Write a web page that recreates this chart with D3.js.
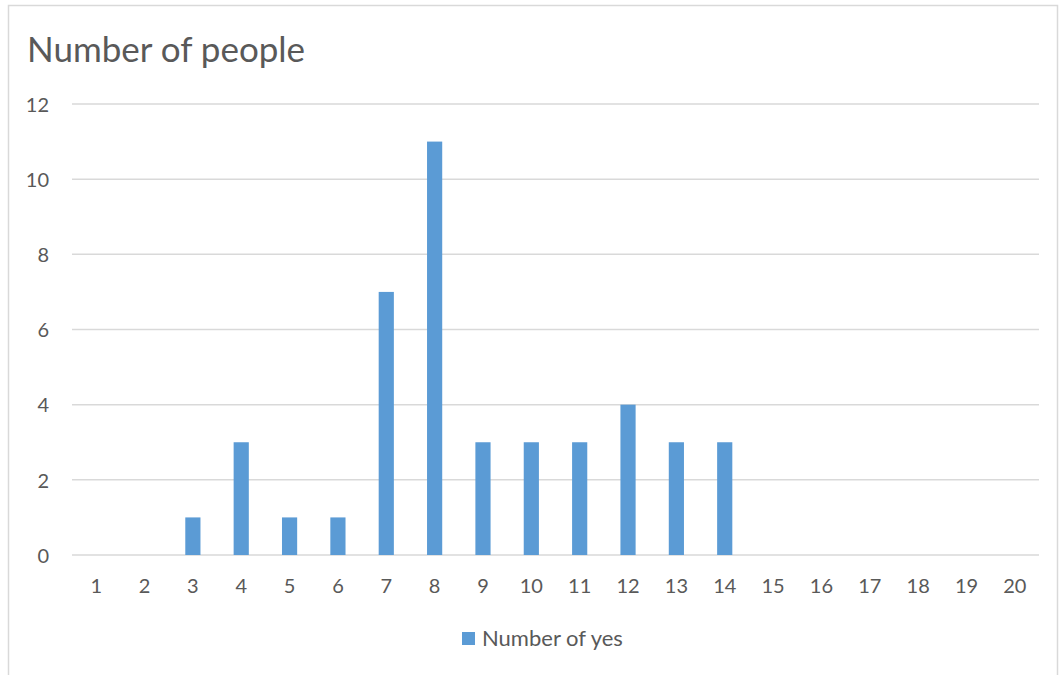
<!DOCTYPE html>
<html>
<head>
<meta charset="utf-8">
<script src="https://cdn.jsdelivr.net/npm/d3@7"></script>
<style>
  html, body { margin: 0; padding: 0; background: #fff; }
  svg { display: block; font-family: Lato, "Open Sans", sans-serif; }
</style>
</head>
<body>
<svg id="chart"></svg>
<script>
// chart data
const categories = d3.range(1, 21).map(String);
const yesCounts = [0, 0, 1, 3, 1, 1, 7, 11, 3, 3, 3, 4, 3, 3, 0, 0, 0, 0, 0, 0];
const yTicks = [0, 2, 4, 6, 8, 10, 12];
const seriesName = "Number of yes";
const chartTitle = "Number of people";

const width = 1059;
const height = 675;
const margin = {top: 104, right: 20, bottom: 120, left: 72};

const svg = d3.select("#chart")
    .attr("width", width)
    .attr("height", height);

// chart frame (cropped at right / bottom like the screenshot)
svg.append("rect")
    .attr("x", 8.5)
    .attr("y", 5.5)
    .attr("width", 1049)
    .attr("height", 700)
    .attr("fill", "none")
    .attr("stroke", "#d9d9d9")
    .attr("stroke-width", 1.5);

svg.append("text")
    .attr("x", 27)
    .attr("y", 62)
    .style("font-size", "35px")
    .style("fill", "#595959")
    .text(chartTitle);

const x = d3.scaleBand()
    .domain(categories)
    .range([margin.left, 1039])
    .paddingInner(0.686)
    .paddingOuter(0.343);

const y = d3.scaleLinear()
    .domain([0, 12])
    .range([555, margin.top]);

// gridlines
svg.append("g")
    .selectAll("line")
    .data(yTicks)
    .enter().append("line")
    .attr("x1", margin.left)
    .attr("x2", 1039)
    .attr("y1", d => y(d))
    .attr("y2", d => y(d))
    .attr("stroke", "#d9d9d9")
    .attr("stroke-width", 1.5);

// y labels
const yAxis = svg.append("g")
    .attr("transform", "translate(49,0)")
    .call(d3.axisLeft(y).tickValues(yTicks).tickSize(0).tickPadding(0));
yAxis.select(".domain").remove();
yAxis.selectAll("text")
    .attr("dy", "0.36em")
    .style("font-size", "20px")
    .style("font-family", "Lato, sans-serif")
    .attr("fill", "#595959");

// bars
svg.append("g")
    .selectAll("rect")
    .data(yesCounts)
    .enter().append("rect")
    .attr("x", (d, i) => x(categories[i]))
    .attr("width", x.bandwidth())
    .attr("y", d => y(d))
    .attr("height", d => y(0) - y(d))
    .attr("fill", "#5b9bd5");

// x labels
const xAxis = svg.append("g")
    .attr("transform", `translate(0,${y(0)})`)
    .call(d3.axisBottom(x).tickSize(0));
xAxis.select(".domain").remove();
xAxis.selectAll("text")
    .attr("y", 38)
    .attr("dy", 0)
    .style("font-size", "20px")
    .style("font-family", "Lato, sans-serif")
    .attr("fill", "#595959");

// legend
const legend = svg.append("g").attr("transform", "translate(462,632)");
legend.append("rect")
    .attr("width", 13)
    .attr("height", 13)
    .attr("fill", "#5b9bd5");
legend.append("text")
    .attr("x", 20)
    .attr("y", 14)
    .style("font-size", "22px")
    .style("fill", "#595959")
    .text(seriesName);
</script>
</body>
</html>
